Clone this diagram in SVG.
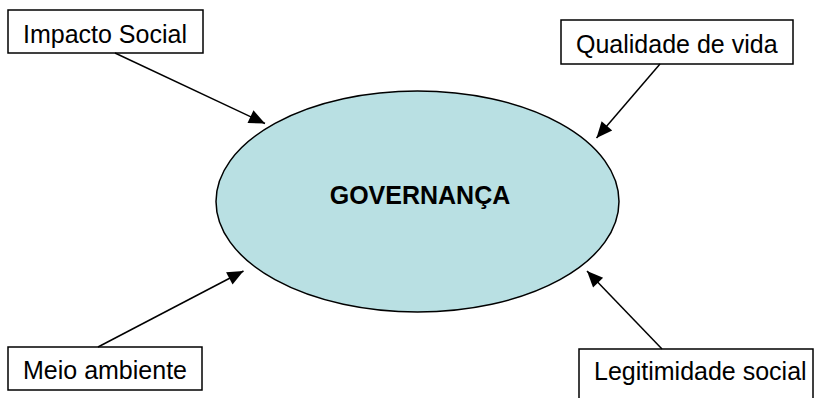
<svg xmlns="http://www.w3.org/2000/svg" width="815" height="398" viewBox="0 0 815 398">
<defs>
<style>
.box{fill:#fff;stroke:#000;stroke-width:1.5}
.lbl{font-family:"Liberation Sans",Arial,sans-serif;font-size:25px;fill:#000}
.conn{stroke:#000;stroke-width:1.5;fill:none;marker-end:url(#ah)}
</style>
<marker id="ah" markerUnits="userSpaceOnUse" markerWidth="18" markerHeight="14" refX="16" refY="7" orient="auto" viewBox="0 0 16 14">
<path d="M0,0 L16,7 L0,14 Z" fill="#000"/>
</marker>
</defs>
<rect width="815" height="398" fill="#fff"/>
<g id="governanca">
<ellipse cx="417.5" cy="201.5" rx="201.5" ry="110.5" fill="#b9e0e3" stroke="#000" stroke-width="1.5"/>
<text x="420" y="204" class="lbl" font-weight="bold" text-anchor="middle">GOVERNANÇA</text>
</g>
<g id="impacto">
<rect class="box" x="8" y="10" width="195" height="43"/>
<text class="lbl" x="23" y="43">Impacto Social</text>
</g>
<g id="qualidade">
<rect class="box" x="561" y="20" width="232" height="44"/>
<text class="lbl" x="576" y="53">Qualidade de vida</text>
</g>
<g id="meio">
<rect class="box" x="8" y="347" width="194" height="43"/>
<text class="lbl" x="23" y="379">Meio ambiente</text>
</g>
<g id="legitimidade">
<rect class="box" x="579" y="349" width="234" height="60"/>
<text class="lbl" x="594" y="380">Legitimidade social</text>
</g>
<g id="connectors">
<line class="conn" x1="115" y1="53" x2="265" y2="123.5"/>
<line class="conn" x1="660" y1="64" x2="596.5" y2="138"/>
<line class="conn" x1="98" y1="347" x2="243.5" y2="271"/>
<line class="conn" x1="662" y1="349" x2="587" y2="271"/>
</g>
</svg>
